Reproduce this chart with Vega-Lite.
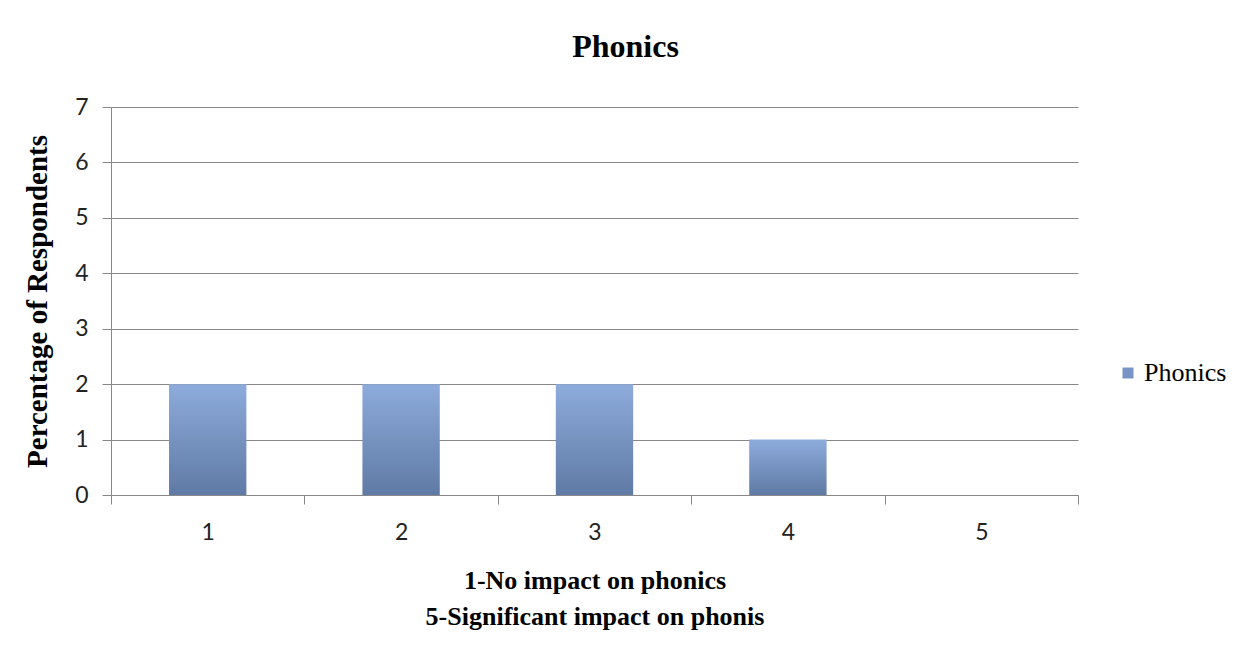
{
  "$schema": "https://vega.github.io/schema/vega-lite/v6.json",
  "width": 967,
  "height": 388,
  "autosize": {"type": "none"},
  "padding": {"left": 111, "top": 107, "right": 171, "bottom": 176},
  "background": "white",
  "title": {
    "text": "Phonics",
    "font": "Liberation Serif",
    "fontSize": 32,
    "fontWeight": "bold",
    "color": "#000000",
    "anchor": "middle",
    "frame": "group",
    "dx": 31,
    "offset": 32
  },
  "data": {
    "values": [
      {"rating": "1", "value": 2, "series": "Phonics"},
      {"rating": "2", "value": 2, "series": "Phonics"},
      {"rating": "3", "value": 2, "series": "Phonics"},
      {"rating": "4", "value": 1, "series": "Phonics"},
      {"rating": "5", "value": 0, "series": "Phonics"}
    ]
  },
  "mark": {
    "type": "bar",
    "width": {"band": 0.4},
    "fill": {
      "gradient": "linear",
      "x1": 0, "y1": 0, "x2": 0, "y2": 1,
      "stops": [
        {"offset": 0, "color": "#8dabdc"},
        {"offset": 1, "color": "#5f7aa4"}
      ]
    }
  },
  "encoding": {
    "x": {
      "field": "rating",
      "type": "ordinal",
      "scale": {"paddingInner": 0, "paddingOuter": 0},
      "axis": {
        "title": ["1-No impact on phonics", "5-Significant impact on phonis"],
        "titleFont": "Liberation Serif",
        "titleFontSize": 26,
        "titleFontWeight": "bold",
        "titleColor": "#000000",
        "titlePadding": 23,
        "titleLineHeight": 36,
        "labelAngle": 0,
        "labelFont": "Lato",
        "labelFontSize": 23,
        "labelColor": "#222222",
        "labelPadding": 17,
        "tickBand": "extent",
        "tickSize": 9,
        "tickColor": "#888888",
        "domainColor": "#888888",
        "grid": false
      }
    },
    "y": {
      "field": "value",
      "type": "quantitative",
      "scale": {"domain": [0, 7]},
      "axis": {
        "title": "Percentage of Respondents",
        "titleFont": "Liberation Serif",
        "titleFontSize": 29,
        "titleFontWeight": "bold",
        "titleColor": "#000000",
        "titlePadding": 22,
        "values": [0, 1, 2, 3, 4, 5, 6, 7],
        "labelFont": "Lato",
        "labelFontSize": 23,
        "labelColor": "#222222",
        "labelPadding": 14,
        "tickSize": 9,
        "tickColor": "#888888",
        "domainColor": "#888888",
        "gridColor": "#888888",
        "gridOpacity": 1
      }
    },
    "color": {
      "field": "series",
      "type": "nominal",
      "scale": {"range": ["#7893c4"]},
      "legend": {
        "title": null,
        "orient": "none",
        "legendX": 1004,
        "legendY": 253,
        "symbolType": "square",
        "symbolSize": 120,
        "symbolFillColor": "#7893c4",
        "symbolStrokeWidth": 0,
        "labelFont": "Liberation Serif",
        "labelFontSize": 26,
        "labelColor": "#000000",
        "labelOffset": 3
      }
    }
  },
  "config": {
    "view": {"stroke": null}
  }
}
